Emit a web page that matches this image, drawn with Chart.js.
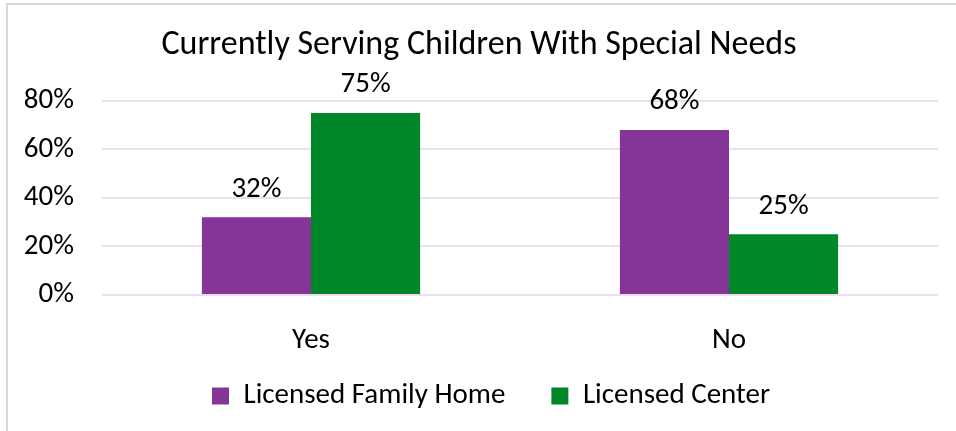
<!DOCTYPE html>
<html>
<head>
<meta charset="utf-8">
<script src="https://cdn.jsdelivr.net/npm/chart.js@4/dist/chart.umd.min.js"></script>
<style>
  html, body { margin: 0; padding: 0; background: #fff; }
  #wrap { position: relative; width: 956px; height: 431px; overflow: hidden; }
  #frame { position: absolute; left: 6px; top: 3px; width: 980px; height: 460px;
           border-left: 2px solid #d9d9d9; border-top: 2px solid #d9d9d9; }
  canvas { position: absolute; left: 0; top: 0; }
</style>
</head>
<body>
<div id="wrap">
  <div id="frame"></div>
  <canvas id="chart" width="956" height="431"></canvas>
</div>
<script>
const categories = ["Yes", "No"];
const familyHome = [32, 68];
const center = [75, 25];
const seriesNames = ["Licensed Family Home", "Licensed Center"];
const yTicks = [0, 20, 40, 60, 80];

const fontFamily = "Carlito, Calibri, Lato, sans-serif";

// draws the value above each bar
const valueLabels = {
    id: "valueLabels",
    afterDatasetsDraw(chart) {
        const ctx = chart.ctx;
        ctx.save();
        ctx.font = "29px " + fontFamily;
        ctx.fillStyle = "#000";
        ctx.textAlign = "center";
        ctx.textBaseline = "middle";
        chart.data.datasets.forEach((ds, i) => {
            chart.getDatasetMeta(i).data.forEach((bar, j) => {
                ctx.fillText(ds.data[j] + "%", bar.x, bar.y - 28);
            });
        });
        ctx.restore();
    }
};

// legend sits a bit right of the title in the original,
// and the x labels need room below their squeezed box
const layoutTweaks = {
    id: "layoutTweaks",
    afterLayout(chart) {
        chart.legend.left += 12;
        chart.legend.right += 12;
        chart.scales.x.bottom += 40;
    }
};

new Chart(document.getElementById("chart"), {
    type: "bar",
    data: {
        labels: categories,
        datasets: [
            { label: seriesNames[0], data: familyHome, backgroundColor: "#843597" },
            { label: seriesNames[1], data: center, backgroundColor: "#008729" }
        ]
    },
    options: {
        responsive: false,
        animation: false,
        layout: { padding: { left: 20, right: 18, top: 0, bottom: 10.5 } },
        datasets: { bar: { categoryPercentage: 0.522, barPercentage: 1 } },
        scales: {
            x: {
                afterFit(scale) { scale.height = 40.5; },
                grid: { display: false },
                border: { display: false },
                ticks: { color: "#000", font: { family: fontFamily, size: 29 }, padding: 20.5 }
            },
            y: {
                min: 0, max: 80,
                afterFit(scale) { scale.width = 82; },
                afterBuildTicks(scale) { scale.ticks = yTicks.map(v => ({ value: v })); },
                grid: { color: "#efdcf3", lineWidth: 2, drawTicks: false },
                border: { display: false },
                ticks: {
                    color: "#000", padding: 28,
                    font: { family: fontFamily, size: 29 },
                    callback: v => v + "%"
                }
            }
        },
        plugins: {
            title: {
                display: true,
                text: "Currently Serving Children With Special Needs",
                color: "#000",
                font: { family: fontFamily, size: 34, weight: "normal" },
                padding: { top: 25, bottom: 35 }
            },
            legend: {
                position: "bottom",
                labels: {
                    color: "#000", boxWidth: 17, boxHeight: 17, padding: 46,
                    font: { family: fontFamily, size: 29 }
                }
            },
            tooltip: { enabled: false }
        }
    },
    plugins: [valueLabels, layoutTweaks]
});
</script>
</body>
</html>
